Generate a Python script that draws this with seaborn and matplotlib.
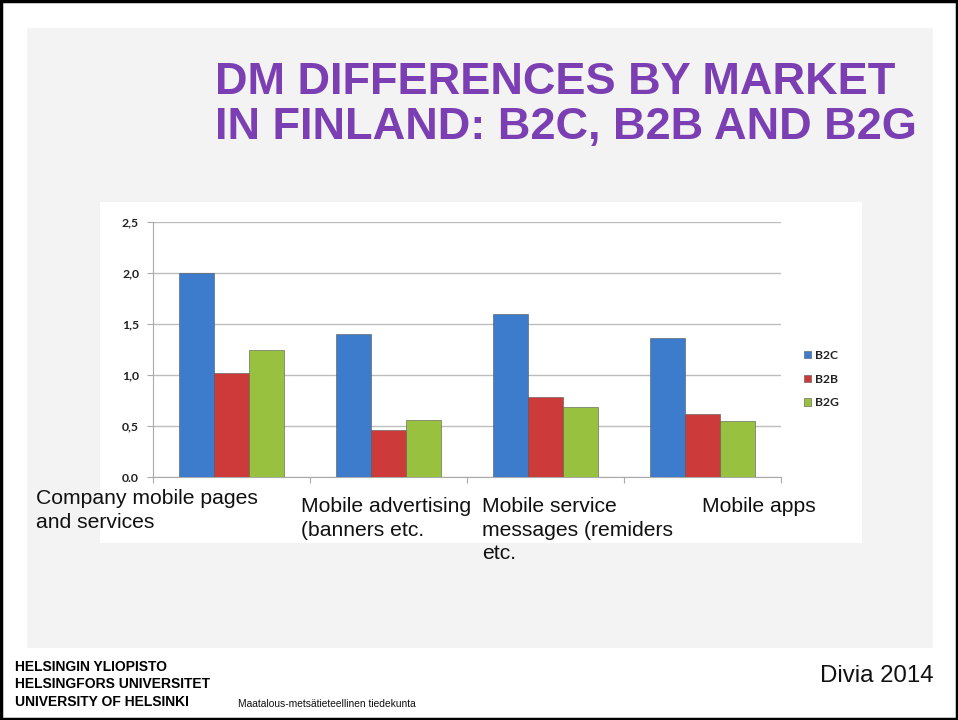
import matplotlib
matplotlib.use("Agg")
import matplotlib.pyplot as plt
from matplotlib.patches import Rectangle
import pandas as pd
import seaborn as sns

# Survey averages per channel and market
categories = ["Company mobile pages and services", "Mobile advertising",
              "Mobile service messages", "Mobile apps"]
markets = ["B2C", "B2B", "B2G"]
b2c = [2.0, 1.40, 1.60, 1.36]
b2b = [1.02, 0.46, 0.78, 0.62]
b2g = [1.25, 0.56, 0.69, 0.55]
ytick_values = [0.0, 0.5, 1.0, 1.5, 2.0, 2.5]
ytick_labels = ["0.0", "0,5", "1,0", "1,5", "2,0", "2,5"]
category_labels = ["Company mobile pages\nand services",
                   "Mobile advertising\n(banners etc.",
                   "Mobile service\nmessages (remiders\netc.",
                   "Mobile apps"]

df = pd.DataFrame({
    "category": categories * 3,
    "market": [m for m in markets for _ in categories],
    "value": b2c + b2b + b2g,
})

sns.set_theme(style="white")
plt.rcParams["font.family"] = ["Liberation Sans", "DejaVu Sans"]

W, H = 958, 720
fig = plt.figure(figsize=(W / 100, H / 100), dpi=100)
fig.patch.set_facecolor("white")


def px_rect(x0, y0, x1, y1, **kw):
    fig.patches.append(Rectangle((x0 / W, 1 - y1 / H), (x1 - x0) / W, (y1 - y0) / H,
                                 transform=fig.transFigure, **kw))


# slide background, chart panel and outer frame
px_rect(27, 28, 933, 648, facecolor="#f3f3f3", edgecolor="none", zorder=-2)
px_rect(100, 202, 862, 543, facecolor="white", edgecolor="none", zorder=-1)
px_rect(1, 1, 957, 719, facecolor="none", edgecolor="black", linewidth=2.5, zorder=10)

ax = fig.add_axes([153 / W, 1 - 477 / H, (781 - 153) / W, (477 - 222) / H])
ax.set_zorder(5)
ax.set_facecolor("none")

palette = {"B2C": "#3d7bcc", "B2B": "#cc3a3a", "B2G": "#97c13f"}
sns.barplot(data=df, x="category", y="value", hue="market", order=categories,
            hue_order=markets, palette=palette, width=0.67, saturation=1,
            edgecolor="#555555", linewidth=0.4, ax=ax, zorder=3)

ax.set_ylim(0, 2.5)
ax.set_xlim(-0.5, len(categories) - 0.5)
ax.set_yticks(ytick_values)
ax.set_yticklabels(ytick_labels, fontsize=8.8, fontweight="bold", color="#222222",
                   family=["Lato", "DejaVu Sans"])
ax.set_xticks([i - 0.5 for i in range(len(categories) + 1)])
ax.set_xticklabels([])
ax.tick_params(axis="both", length=4, width=0.8, color="#aaaaaa", direction="out",
               left=True, bottom=True, pad=6)
ax.yaxis.grid(True, color="#bdbdbd", linewidth=1)
ax.set_axisbelow(True)
ax.set_xlabel("")
ax.set_ylabel("")
for side in ["top", "right"]:
    ax.spines[side].set_visible(False)
for side in ["left", "bottom"]:
    ax.spines[side].set_color("#aaaaaa")
    ax.spines[side].set_linewidth(0.8)

leg = ax.legend(loc="upper left", bbox_to_anchor=(793 / W, 1 - 339 / H),
                bbox_transform=fig.transFigure, frameon=False,
                prop={"family": ["Lato", "DejaVu Sans"], "weight": "bold", "size": 8.7},
                handlelength=0.55, handleheight=0.55, handletextpad=0.35,
                labelspacing=1.05)
for t in leg.get_texts():
    t.set_color("#222222")

# slide title
fig.text(215 / W, 1 - 82 / H, "DM DIFFERENCES BY MARKET", color="#7b3fb3",
         fontsize=32.5, fontweight="bold", va="center", ha="left")
fig.text(215 / W, 1 - 127 / H, "IN FINLAND: B2C, B2B AND B2G", color="#7b3fb3",
         fontsize=32.5, fontweight="bold", va="center", ha="left")

# category captions under the bars
label_x = [36, 301, 482, 702]
label_top = [489, 497, 497, 497]
for x, y, lab in zip(label_x, label_top, category_labels):
    fig.text(x / W, 1 - y / H, lab, fontsize=15.2, color="#111111",
             ha="left", va="top", linespacing=1.3)

# footer
for i, line in enumerate(["HELSINGIN YLIOPISTO", "HELSINGFORS UNIVERSITET",
                          "UNIVERSITY OF HELSINKI"]):
    fig.text(15 / W, 1 - (667 + 17.5 * i) / H, line, fontsize=10, fontweight="bold",
             family=["Liberation Sans Narrow", "Liberation Sans"],
             color="black", va="center", ha="left")
fig.text(238 / W, 1 - 704 / H, "Maatalous-metsätieteellinen tiedekunta", fontsize=7.4,
         color="#111111", va="center", ha="left")
fig.text(934 / W, 1 - 676 / H, "Divia 2014", fontsize=17.3, color="#111111",
         va="center", ha="right")

fig.savefig("out.png", dpi=100, facecolor=fig.get_facecolor())
